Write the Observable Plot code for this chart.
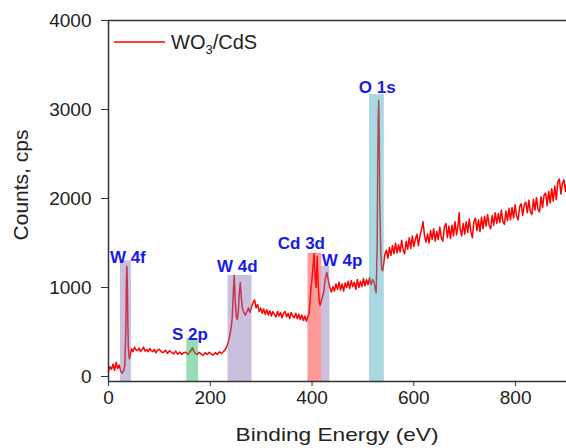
<!DOCTYPE html>
<html>
<head>
<meta charset="utf-8">
<script src="https://cdn.jsdelivr.net/npm/d3@7"></script>
<script src="https://cdn.jsdelivr.net/npm/@observablehq/plot@0.6"></script>
<style>
  html, body { margin: 0; padding: 0; background: #fff; }
  #chart { width: 566px; height: 448px; }
  svg { font-family: "Liberation Sans", Arial, sans-serif; }
</style>
</head>
<body>
<div id="chart"></div>
<script>
// XPS survey spectrum of WO3/CdS: [binding energy (eV), counts (cps)]
const spectrum = [
  [0,60],[3,110],[6,80],[9,140],[12,70],[15,160],[18,90],[21,130],[24,60],[27,40],[30,70],[32,120],
  [34,500],[35,1000],[36,1240],[37,1050],[38,600],[39,320],[41,200],[43,240],[45,310],[48,280],
  [51,330],[54,300],[57,290],[60,320],[63,280],[66,305],[69,330],[72,285],[75,305],[78,280],
  [81,315],[84,290],[87,280],[90,305],[93,265],[96,295],[100,305],[104,275],[108,270],[112,295],
  [116,260],[120,290],[124,270],[128,255],[132,285],[136,250],[140,275],[144,248],[148,268],
  [152,272],[156,248],[160,278],[163,300],[165,322],[167,290],[170,262],[174,248],[178,272],
  [182,252],[186,238],[190,268],[194,248],[198,272],[202,252],[206,242],[210,268],[214,248],
  [218,278],[222,258],[226,282],[229,300],[232,330],[235,380],[238,450],[241,550],[243,650],
  [245,900],[247,1135],[249,850],[251,680],[253,640],[255,720],[257,930],[259,1056],[261,880],
  [263,770],[266,720],[269,690],[272,730],[275,770],[278,720],[281,780],[284,830],[287,860],
  [290,770],[293,810],[296,730],[299,770],[302,710],[305,760],[308,700],[311,750],[314,690],
  [317,740],[320,680],[323,730],[326,700],[329,670],[332,730],[335,680],[338,720],[341,660],
  [344,710],[347,730],[350,670],[353,710],[356,650],[359,720],[362,680],[365,660],[368,710],
  [371,650],[374,700],[377,640],[380,690],[383,630],[386,680],[389,620],[392,680],[394,700],
  [396,850],[398,1000],[400,1100],[402,1250],[404,1380],[406,1100],[408,1000],[410,1350],
  [412,1050],[414,850],[416,800],[418,850],[420,880],[423,950],[426,1100],[429,1170],[432,1080],
  [435,1000],[438,950],[441,1010],[444,960],[447,1040],[450,980],[453,1060],[456,970],[459,1040],
  [462,960],[465,1050],[468,1000],[471,1070],[474,990],[477,1080],[480,1010],[483,1060],
  [486,980],[489,1090],[492,1000],[495,1070],[498,1010],[501,1100],[504,1020],[507,1090],
  [510,1030],[513,1110],[516,1030],[519,1090],[522,1060],[524,980],[526,944],[528,1500],
  [529,2400],[530,2900],[531,3100],[532,2700],[533,2000],[535,1400],[537,1200],[539,1190],
  [541,1280],[543,1370],[546,1420],[549,1330],[552,1450],[555,1360],[558,1470],[561,1380],
  [564,1500],[567,1390],[570,1480],[573,1400],[576,1530],[579,1420],[582,1380],[585,1520],
  [588,1430],[591,1560],[594,1440],[597,1580],[600,1460],[603,1540],[606,1600],[609,1470],
  [612,1580],[615,1650],[618,1740],[621,1580],[624,1510],[627,1600],[630,1500],[633,1640],
  [636,1540],[639,1660],[642,1520],[645,1630],[648,1540],[651,1680],[654,1560],[657,1520],
  [660,1680],[663,1720],[666,1560],[669,1690],[672,1550],[675,1700],[678,1580],[681,1740],
  [684,1590],[687,1700],[689,1840],[691,1660],[694,1580],[697,1720],[700,1600],[703,1740],
  [706,1620],[709,1770],[712,1630],[715,1560],[718,1740],[721,1780],[724,1640],[727,1760],
  [730,1630],[733,1790],[736,1660],[739,1800],[742,1690],[745,1820],[748,1700],[751,1660],
  [754,1810],[757,1700],[760,1840],[763,1720],[766,1830],[769,1730],[772,1870],[775,1740],
  [778,1710],[781,1860],[784,1750],[787,1890],[790,1760],[793,1900],[796,1780],[799,1930],
  [802,1800],[805,1760],[808,1910],[811,1940],[814,1810],[817,1930],[820,1960],[823,1840],
  [826,1980],[829,1850],[832,1820],[835,1990],[838,1870],[841,2010],[844,1880],[847,1850],
  [850,2020],[853,1900],[856,2040],[859,2060],[862,1920],[865,2080],[868,1950],[871,2110],
  [874,1970],[877,2140],[880,1990],[883,2190],[886,2220],[889,2050],[892,2170],[895,2210],
  [898,2080],[900,2160]
];

// Highlighted core levels
const bandLabel = ["W 4f", "S 2p", "W 4d", "Cd 3d", "W 4p", "O 1s"];
const bandKind  = ["W", "S", "W", "Cd", "W", "O"];
const bandStart = [23.5, 154, 235, 392, 419, 513];
const bandEnd   = [45, 177, 282, 419, 435, 542];
const bandTop   = [1300, 427, 1135, 1385, 1236, 3168];
const labelX    = [38, 160, 253, 379, 459, 528];
const labelY    = [1337, 472, 1236, 1494, 1303, 3247];

const xTicks = [0, 200, 400, 600, 800];
const yTicks = [0, 1000, 2000, 3000, 4000];
const xDomain = [0, 900];
const yDomain = [-56, 4000];
const seriesName = "WO3/CdS";

const line = spectrum.map(([e, c]) => ({energy: e, counts: c}));
const bands = bandLabel.map((l, i) => ({
  label: l, kind: bandKind[i], x1: bandStart[i], x2: bandEnd[i], top: bandTop[i],
  lx: labelX[i], ly: labelY[i]
}));

const FONT = "Liberation Sans, Arial, sans-serif";

const chart = Plot.plot({
  width: 566,
  height: 448,
  marginLeft: 108,
  marginRight: 0,
  marginTop: 20,
  marginBottom: 67,
  style: {fontFamily: FONT, color: "#222", background: "#fff"},
  x: {domain: xDomain},
  y: {domain: yDomain},
  color: {domain: ["W", "S", "Cd", "O"], range: ["#8574b2", "#16b259", "#fb2121", "#43a9bf"]},
  marks: [
    Plot.line(line, {x: "energy", y: "counts", stroke: "#ff0000", strokeWidth: 1.5}),
    Plot.rectY(bands, {x1: "x1", x2: "x2", y1: yDomain[0], y2: "top", fill: "kind", fillOpacity: 0.45}),
    Plot.text(bands, {x: "lx", y: "ly", text: "label", fill: "#1a1ae6", fontWeight: "bold", fontSize: 17, fontFamily: FONT}),
    Plot.ruleX([xDomain[0]], {stroke: "#333", strokeWidth: 1.5}),
    Plot.ruleY([yDomain[0], yDomain[1]], {stroke: "#333", strokeWidth: 1.5}),
    Plot.axisY({ticks: yTicks, tickFormat: d3.format("d"), tickSize: 7, tickPadding: 10, fontSize: 19, label: null, stroke: "#333"}),
    Plot.axisX({ticks: xTicks, tickFormat: d3.format("d"), tickSize: 5, tickPadding: 4, fontSize: 19, label: null, stroke: "#333"})
  ]
});

const svg = d3.select(chart);
// axis titles
svg.append("text")
  .attr("x", (108 + 566) / 2).attr("y", 441)
  .attr("text-anchor", "middle")
  .attr("font-size", 19).attr("font-family", FONT).attr("fill", "#222")
  .attr("textLength", 203).attr("lengthAdjust", "spacingAndGlyphs")
  .text("Binding Energy (eV)");
svg.append("text")
  .attr("transform", "translate(20,185) rotate(-90)")
  .attr("text-anchor", "middle").attr("dominant-baseline", "central")
  .attr("font-size", 21).attr("font-family", FONT).attr("fill", "#222")
  .text("Counts, cps");
// legend
const lg = svg.append("g");
lg.append("line").attr("x1", 114).attr("x2", 165).attr("y1", 42).attr("y2", 42)
  .attr("stroke", "#ff0000").attr("stroke-width", 1.5);
const lt = lg.append("text").attr("x", 171).attr("y", 49).attr("text-anchor", "start")
  .attr("font-size", 20).attr("font-family", FONT).attr("fill", "#222");
lt.append("tspan").text(seriesName.slice(0, 2));
lt.append("tspan").attr("font-size", 13).attr("dy", 5).text(seriesName.slice(2, 3));
lt.append("tspan").attr("dy", -5).text(seriesName.slice(3));

document.getElementById("chart").appendChild(chart);
</script>
</body>
</html>
